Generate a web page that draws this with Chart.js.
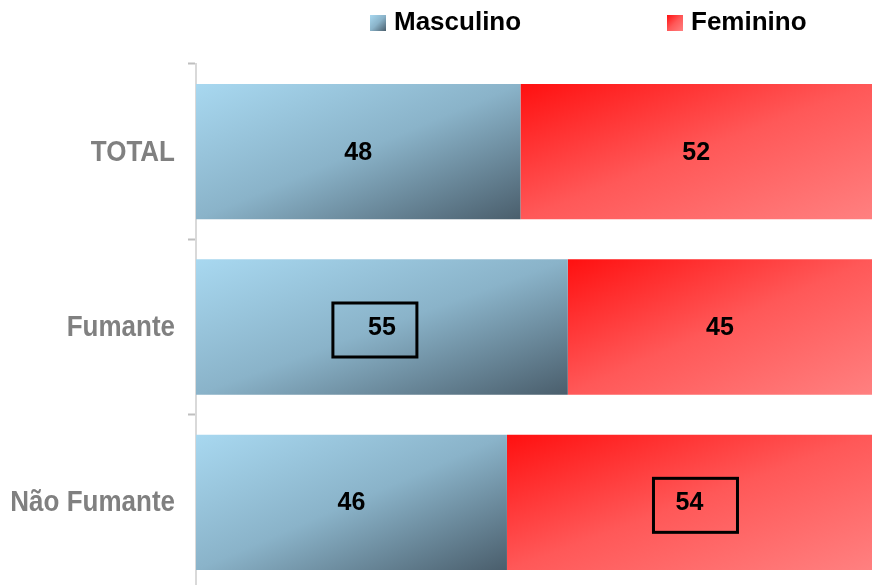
<!DOCTYPE html>
<html>
<head>
<meta charset="utf-8">
<script src="https://cdn.jsdelivr.net/npm/chart.js@4.4.0/dist/chart.umd.min.js"></script>
<style>
  html, body { margin: 0; padding: 0; background: #ffffff; overflow: hidden; }
  #wrap { position: relative; width: 872px; height: 590px; }
</style>
</head>
<body>
<div id="wrap"><canvas id="c"></canvas></div>
<script>
const categories = ['TOTAL', 'Fumante', 'Não Fumante'];
const seriesNames = ['Masculino', 'Feminino'];
const masculino = [48, 55, 46];
const feminino = [52, 45, 54];
// [datasetIndex, categoryIndex] of the values framed by a box
const boxedValues = [[0, 1], [1, 2]];

const gradStops = [
  ['#a8d8f0', '#8ab3c9', '#4a5e6c'],
  ['#ff1010', '#ff5858', '#ff8080']
];
const BAR_PCT = 0.772;

// Diagonal gradient scaled to the shape (isolines parallel to the anti-diagonal)
function rectGradient(ctx, left, top, w, h, stops) {
  const t = 1 / (1 / (w * w) + 1 / (h * h));
  const g = ctx.createLinearGradient(left, top, left + t / w * 2, top + t / h * 2);
  g.addColorStop(0, stops[0]);
  g.addColorStop(0.5, stops[1]);
  g.addColorStop(1, stops[2]);
  return g;
}

function barFill(c) {
  const chart = c.chart;
  const xs = chart.scales.x, ys = chart.scales.y;
  if (!xs || !ys || !chart.chartArea) return gradStops[c.datasetIndex][1];
  const i = c.dataIndex, di = c.datasetIndex;
  let start = 0;
  for (let k = 0; k < di; k++) start += chart.data.datasets[k].data[i];
  const v = chart.data.datasets[di].data[i];
  const left = xs.getPixelForValue(start), right = xs.getPixelForValue(start + v);
  const step = Math.abs(ys.getPixelForValue(1) - ys.getPixelForValue(0));
  const h = step * BAR_PCT;
  const top = ys.getPixelForValue(i) - h / 2;
  return rectGradient(chart.ctx, left, top, right - left, h, gradStops[di]);
}

const labelPlugin = {
  id: 'valueLabels',
  afterDatasetsDraw(chart) {
    const ctx = chart.ctx;
    ctx.save();
    ctx.font = 'bold 25px "Liberation Sans", Arial, sans-serif';
    ctx.fillStyle = '#000000';
    ctx.textAlign = 'center';
    ctx.textBaseline = 'middle';
    chart.data.datasets.forEach((ds, di) => {
      const meta = chart.getDatasetMeta(di);
      meta.data.forEach((el, i) => {
        const cx = (el.x + el.base) / 2;
        ctx.fillText(String(ds.data[i]), cx, el.y + 1);
      });
    });
    ctx.lineWidth = 3;
    ctx.strokeStyle = '#000000';
    boxedValues.forEach(([di, i]) => {
      const el = chart.getDatasetMeta(di).data[i];
      const cx = (el.x + el.base) / 2 + (di === 0 ? -7 : 6);
      const cy = el.y + 3;
      ctx.strokeRect(cx - 42, cy - 27, 84, 54);
    });
    ctx.restore();
  }
};

const categoryLabelPlugin = {
  id: 'categoryLabels',
  afterDraw(chart) {
    const ctx = chart.ctx;
    const yScale = chart.scales.y;
    ctx.save();
    ctx.font = 'bold 26px "Liberation Sans", Arial, sans-serif';
    ctx.fillStyle = '#808080';
    ctx.textAlign = 'right';
    ctx.textBaseline = 'middle';
    categories.forEach((lab, i) => {
      const y = yScale.getPixelForTick(i) + 1;
      ctx.save();
      ctx.translate(175, y);
      ctx.scale(1, 1.12);
      ctx.fillText(lab, 0, 0);
      ctx.restore();
    });
    ctx.restore();
  }
};

const legendPlugin = {
  id: 'customLegend',
  afterDraw(chart) {
    const ctx = chart.ctx;
    ctx.save();
    ctx.font = 'bold 26px "Liberation Sans", Arial, sans-serif';
    ctx.textBaseline = 'middle';
    ctx.textAlign = 'left';
    const xs = [370, 667];
    seriesNames.forEach((name, di) => {
      const x = xs[di], y = 15, s = 16;
      ctx.fillStyle = rectGradient(ctx, x, y, s, s, gradStops[di]);
      ctx.fillRect(x, y, s, s);
      ctx.fillStyle = '#000000';
      ctx.fillText(name, x + 24, 23);
    });
    ctx.restore();
  }
};

new Chart(document.getElementById('c'), {
  type: 'bar',
  data: {
    labels: categories,
    datasets: [
      { label: seriesNames[0], data: masculino, backgroundColor: barFill, borderWidth: 0,
        barPercentage: BAR_PCT, categoryPercentage: 1 },
      { label: seriesNames[1], data: feminino, backgroundColor: barFill, borderWidth: 0,
        barPercentage: BAR_PCT, categoryPercentage: 1 }
    ]
  },
  options: {
    indexAxis: 'y',
    responsive: true,
    maintainAspectRatio: false,
    animation: false,
    layout: { padding: { top: 64, left: 0, right: 0, bottom: 0 } },
    plugins: {
      legend: { display: false },
      tooltip: { enabled: false }
    },
    scales: {
      x: { stacked: true, min: 0, max: 100, display: false },
      y: {
        stacked: true,
        afterFit(scale) { scale.width = 196; },
        grid: {
          offset: true,
          drawOnChartArea: false,
          drawTicks: true,
          tickLength: 8,
          tickWidth: 2,
          tickColor: '#bfbfbf'
        },
        border: { display: true, color: '#d9d9d9', width: 2 },
        ticks: { display: false }
      }
    }
  },
  plugins: [labelPlugin, categoryLabelPlugin, legendPlugin]
});
</script>
</body>
</html>
